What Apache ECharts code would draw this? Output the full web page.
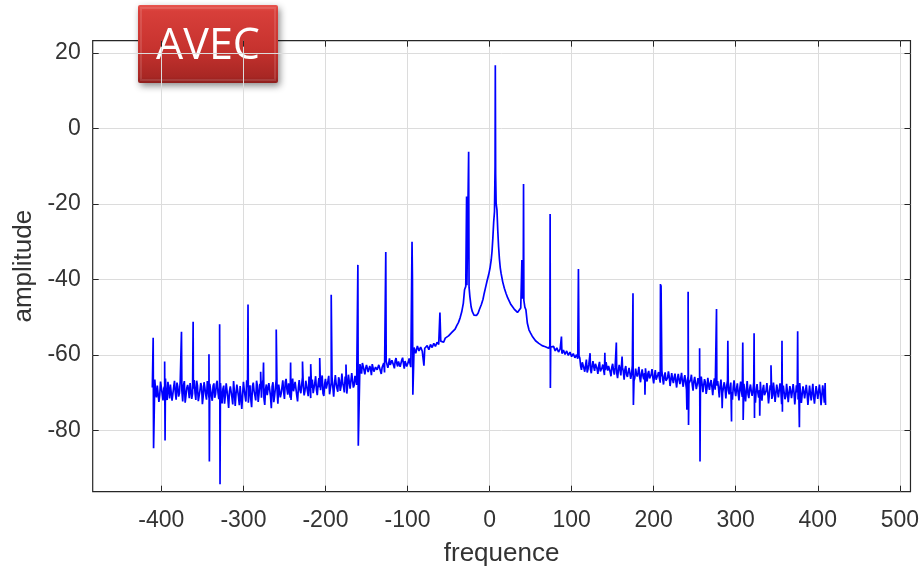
<!DOCTYPE html>
<html><head><meta charset="utf-8">
<script src="https://cdn.jsdelivr.net/npm/echarts@6/dist/echarts.min.js"></script>
<style>html,body{margin:0;padding:0;background:#fff}#c{width:922px;height:573px}</style>
</head><body><div id="c"></div>
<script>
// ---- axis text / ticks ----
const xTicks = [-400,-300,-200,-100,0,100,200,300,400,500];
const yTicks = [-80,-60,-40,-20,0,20];
const xLabel = 'frequence';
const yLabel = 'amplitude';
const badge = 'AVEC';

// ---- noise floor segments; A = even Hz, B = odd Hz ----
const floorStep = 2;
const floorLeftStart = -408;
const floorLeft = [
-66.5,-71.2,-67.8,-70.6,-66.9,-72.0,-68.2,-70.9,-67.1,-71.5,
-67.6,-70.3,-66.8,-71.8,-68.4,-70.1,-67.2,-72.3,-66.9,-70.7,
-67.9,-71.4,-67.0,-70.2,-66.6,-71.9,-68.1,-70.8,-67.4,-73.0,
-67.2,-70.5,-66.9,-71.3,-68.0,-72.1,-67.5,-70.4,-66.8,-71.7,
-67.4,-72.8,-68.1,-70.6,-67.0,-74.0,-68.3,-71.2,-66.9,-73.5,
-67.8,-71.0,-68.2,-74.3,-67.1,-70.9,-66.7,-72.6,-68.0,-73.8,
-67.3,-70.7,-66.8,-72.4,-67.6,-71.3,-66.5,-73.2,-67.8,-70.4,
-66.9,-74.1,-67.2,-70.8,-66.4,-72.9,-67.5,-70.2,-66.7,-71.6,
-66.3,-70.5,-67.0,-71.9,-66.2,-69.8,-67.4,-72.3,-66.6,-70.1,
-65.9,-70.7,-66.8,-69.5,-65.7,-71.4,-66.5,-69.9,-65.6,-70.6,
-66.1,-69.3,-65.4,-70.8,-66.3,-69.2,-65.5,-69.9,-65.8,-71.0,
-65.3,-68.8,-65.9,-69.5,-64.9,-68.4,-65.7,-70.2,-65.2,-68.9,
-64.8,-68.6,-65.5,-67.9
];
const floorLeftBStart = -407;
const floorLeftB = [
-69.8,-68.1,-72.4,-67.0,-70.3,-68.8,-66.2,-71.9,-69.2,-67.8,
-72.1,-68.5,-69.9,-67.3,-71.0,-66.9,-69.5,-68.0,-72.6,-68.7,
-69.1,-67.4,-71.6,-68.9,-70.0,-66.8,-72.2,-69.4,-68.3,-70.9,
-68.6,-71.8,-69.3,-67.6,-70.8,-68.2,-71.3,-67.7,-69.9,-68.4,
-70.5,-69.0,-72.9,-67.5,-71.4,-69.6,-68.0,-73.1,-69.7,-70.2,
-69.4,-73.3,-67.9,-70.6,-69.2,-72.3,-68.5,-69.8,-71.7,-68.3,
-69.6,-72.0,-68.1,-70.3,-69.0,-67.6,-71.5,-68.9,-70.6,-67.4,
-70.9,-68.3,-72.5,-68.6,-69.4,-67.8,-71.2,-68.5,-69.7,-67.2,
-69.0,-67.5,-71.3,-68.4,-69.6,-67.1,-70.7,-68.6,-69.3,-67.8,
-68.4,-69.5,-67.2,-70.9,-68.0,-68.7,-70.1,-67.4,-69.2,-67.9,
-68.6,-67.0,-70.2,-67.7,-68.9,-66.8,-70.4,-67.3,-68.5,-67.9,
-67.6,-69.7,-66.6,-68.3,-67.4,-69.9,-66.9,-68.0,-67.1,-69.4,
-66.7,-68.0,-66.5
];
const floorMidStart = -158;
const floorMid = [
-62.4,-64.9,-63.0,-65.1,-62.6,-64.5,-62.9,-65.3,-62.5,-64.7,
-62.8,-64.4,-62.3,-65.0,-63.1,-64.6,-61.6,-63.4,-60.9,-62.8,
-61.2,-63.5,-60.8,-63.0,-61.4,-62.9,-60.7,-63.6,-61.1,-62.5,
-60.9,-63.2
];
const floorMidBStart = -157;
const floorMidB = [
-63.8,-62.1,-64.0,-63.5,-62.2,-65.0,-63.7,-62.4,-64.4,-63.2,
-63.9,-62.6,-64.2,-63.3,-62.1,-64.8,-62.0,-62.4,-62.6,-61.4,
-62.7,-61.5,-62.3,-61.7,-63.1,-61.3,-62.2,-61.6,-63.0,-61.8,
-62.2
];
const floorRightStart = 110;
const floorRight = [
-60.8,-63.9,-61.5,-64.4,-61.2,-63.7,-62.0,-64.8,-61.6,-64.2,
-62.1,-65.0,-61.8,-64.6,-62.5,-65.3,-61.9,-64.1,-62.7,-65.6,
-62.3,-65.2,-63.0,-66.1,-62.6,-65.4,-63.2,-66.5,-62.9,-65.8,
-63.4,-66.3,-62.8,-66.9,-63.6,-65.7,-63.1,-67.2,-63.8,-66.4,
-63.5,-67.0,-64.2,-66.6,-63.7,-67.5,-64.0,-66.8,-64.5,-67.3,
-64.1,-67.8,-64.6,-66.9,-64.3,-68.2,-64.8,-67.4,-64.9,-68.6,
-65.0,-67.7,-64.7,-68.4,-65.3,-69.1,-65.6,-68.0,-65.2,-69.4,
-65.8,-69.0,-66.1,-68.5,-65.7,-69.8,-66.4,-70.3,-66.0,-69.2,
-66.6,-70.6,-66.2,-69.7,-66.9,-71.2,-66.5,-70.1,-67.2,-71.5,
-66.8,-70.4,-67.3,-71.8,-66.7,-70.9,-67.5,-72.0,-67.0,-71.1,
-67.6,-72.3,-66.9,-71.4,-67.8,-70.8,-67.2,-72.6,-67.7,-71.3,
-67.1,-72.1,-67.9,-71.0,-67.4,-72.8,-68.0,-71.6,-67.3,-72.4,
-67.8,-71.2,-67.5,-73.0,-68.1,-71.7,-67.6,-72.5,-68.2,-71.4,
-67.7,-73.1,-68.0,-71.8,-67.4,-72.7,-68.3,-71.5,-67.9,-73.2,
-68.1,-72.0,-67.6,-72.9,-68.2,-71.6,-67.8,-73.3,-68.0,-72.6
];
const floorRightBStart = 111;
const floorRightB = [
-62.9,-61.9,-63.5,-62.7,-64.6,-62.4,-63.8,-62.9,-63.1,-62.3,
-63.6,-62.9,-64.3,-63.4,-62.7,-64.0,-63.3,-62.9,-64.5,-63.2,
-64.0,-63.4,-64.8,-64.1,-63.7,-64.9,-64.3,-63.8,-65.2,-64.5,
-64.7,-65.2,-64.1,-66.0,-65.0,-64.6,-65.9,-64.9,-65.6,-64.8,
-65.6,-64.9,-66.2,-65.1,-66.0,-65.4,-66.5,-65.2,-66.1,-65.7,
-66.3,-65.5,-66.8,-66.0,-65.7,-66.6,-66.4,-65.9,-66.9,-66.2,
-66.6,-66.1,-67.0,-66.4,-67.3,-66.8,-67.5,-66.6,-67.8,-67.0,
-67.4,-67.9,-66.9,-68.4,-67.6,-68.0,-67.2,-68.8,-67.9,-67.5,
-68.4,-67.8,-69.2,-68.1,-68.7,-68.3,-69.4,-68.6,-68.9,-68.2,
-69.3,-68.7,-69.8,-68.5,-69.5,-68.9,-70.2,-68.8,-69.6,-69.0,
-69.9,-69.2,-70.4,-68.9,-69.7,-69.4,-70.5,-69.1,-70.0,-69.3,
-70.3,-69.0,-70.6,-69.5,-69.8,-70.4,-69.2,-70.7,-69.6,-70.1,
-69.5,-70.8,-69.4,-70.2,-69.9,-70.9,-69.7,-70.3,-69.6,-71.0,
-69.8,-70.5,-69.9,-71.1,-70.0,-70.4,-69.6,-71.2,-70.1,-70.6,
-70.2,-69.7,-71.0,-70.3,-69.8,-71.3,-70.0,-70.7,-69.9
];

// ---- central region [freq, amplitude] ----
const centre = [
[-92,-58.0],[-90,-59.5],[-88,-57.6],[-86,-58.9],[-84,-57.9],[-82,-59.0],[-80,-62.8],[-79,-58.2],
[-76,-57.5],[-74,-58.6],[-72,-57.2],[-70,-58.0],[-68,-56.9],[-66,-57.7],[-64,-56.6],[-62,-57.2],
[-60.5,-48.7],[-59.5,-56.3],[-58,-56.0],[-56,-56.6],[-54,-55.5],[-52,-55.9],[-50,-54.9],[-48,-55.2],
[-46,-54.0],[-44,-53.5],[-42,-53.1],[-40,-52.2],[-38,-51.4],[-36,-50.2],[-34,-48.6],[-32,-46.3],
[-30.5,-42.7],[-29,-41.8],[-28.2,-41.6],[-28,-18],[-27.6,-41.5],[-26.5,-41],[-25.5,-6.1],[-25,-42],
[-24,-44.5],[-22.5,-47.2],[-21,-48.5],[-19,-49.4],[-17.5,-49.8],[-16,-49.5],[-14,-48.9],[-12.5,-48.0],
[-10,-46.6],[-8,-45.2],[-6.5,-43.6],[-5,-42.2],[-3,-40.3],[-1,-38.6],[0.5,-37.0],[2,-34.8],[3,-32.5],
[4,-29.0],[5,-24.8],[6,-22],[6.7,-10],[7,16.8],[7.4,-12],[8,-19.8],[9,-21.5],[10,-27],[11,-31.3],
[12,-34.5],[13,-36.8],[14,-38.3],[16,-40.6],[18,-42.3],[20,-43.6],[22,-44.8],[24,-45.7],[26,-46.6],
[28,-47.2],[30,-47.8],[32,-48.3],[34,-48.7],[36,-48.9],[38,-47.5],[39.4,-34.8],[40,-45],[41,-44],
[41.4,-14.7],[41.8,-45.5],[43,-47.3],[44.3,-48],[46,-51.5],[48,-53.3],[50,-54.2],[52,-55.0],[54,-55.4],
[56,-56.2],[58,-56.0],[60,-56.9],[62,-56.6],[64,-57.5],[66,-57.1],[68,-57.8],[70,-57.4],[72,-58.2],
[73.5,-57.6],[73.8,-22.6],[74.1,-68.7],[74.5,-57.9],[76,-58.4],[78,-57.7],[80,-58.9],[82,-58.1],
[84,-59.2],[86,-58.4],[87.6,-55.1],[88.2,-59.6],[90,-58.7],[92,-59.8],[94,-58.9],[96,-60.1],[98,-59.2],
[100,-60.4],[102,-59.6],[104,-60.7],[106,-59.9],[107.5,-61.0],[108.3,-37.2],[109,-60.2]
];

// ---- isolated spikes [freq, amplitude] ----
const spikesLeft = [
[-411,-68.6],[-410,-55.4],[-409.5,-84.7],[-396,-61.7],[-395.5,-82.6],[-375.5,-53.8],[-361.3,-51.2],
[-342,-59.8],[-341.5,-88.2],[-329,-51.8],[-328.5,-94.2],[-294.4,-46.6],[-279,-64.4],[-275.5,-62],
[-260,-53.2],[-242.5,-62],[-228,-61.7],[-218,-62.4],[-207,-60.8],[-193,-44],[-175,-62.5],
[-160.5,-36.1],[-160,-84],[-126.5,-32.7],[-94.5,-30],[-94,-39.6],[-93.5,-70.5]
];
const spikesRight = [
[122.5,-59.5],[140.5,-59.4],[154.5,-56.7],[161.5,-60.4],[174.8,-43.6],[175.3,-73.2],[189.4,-70.5],
[208.3,-41.2],[209,-41.5],[240.5,-74.5],[242,-43.2],[242.5,-78.5],[256,-58.2],[256.5,-88.2],
[276.6,-47.8],[283.5,-74.1],[290.4,-56.2],[294.9,-77.6],[308.6,-56.7],[309.1,-77.2],[322.4,-54.2],
[322.9,-76.7],[329.3,-76.1],[343,-62.7],[356.4,-56.2],[356.9,-75],[375.5,-53.7],[377.6,-79.1],
[409,-67.4],[409.5,-73.2]
];

function floorPairs(start, vals){ return vals.map((v,i)=>[start+i*floorStep, v]); }
const points = [].concat(
  floorPairs(floorLeftStart, floorLeft), floorPairs(floorLeftBStart, floorLeftB),
  floorPairs(floorMidStart, floorMid), floorPairs(floorMidBStart, floorMidB),
  floorPairs(floorRightStart, floorRight), floorPairs(floorRightBStart, floorRightB),
  centre, spikesLeft, spikesRight
).sort((a,b)=>a[0]-b[0]);

const TXT = '#333333';
const FONT = 'Liberation Sans';
const chart = echarts.init(document.getElementById('c'));
const tickLine = {color:'#262626', width:1};
chart.setOption({
  animation:false,
  backgroundColor:'#ffffff',
  grid:{left:92.7, right:10, top:40.7, bottom:81.3, show:true, borderColor:'#262626', borderWidth:1.2, backgroundColor:'#fff'},
  xAxis:[{
    type:'value', min:-483.7, max:513, position:'bottom',
    axisLine:{show:false, onZero:false},
    axisTick:{show:true, inside:true, length:6, customValues:xTicks, lineStyle:tickLine},
    axisLabel:{customValues:xTicks, fontSize:23, color:TXT, margin:17, fontFamily:FONT},
    splitLine:{show:true, lineStyle:{color:'#dcdcdc', width:1}},
    name:xLabel, nameLocation:'middle', nameGap:49,
    nameTextStyle:{fontSize:26, color:TXT, fontFamily:FONT}
  },{
    type:'value', min:-483.7, max:513, position:'top',
    axisLine:{show:false, onZero:false},
    axisTick:{show:true, inside:true, length:6, customValues:xTicks, lineStyle:tickLine},
    axisLabel:{show:false}, splitLine:{show:false}
  }],
  yAxis:[{
    type:'value', min:-96.2, max:23.3, position:'left',
    axisLine:{show:false, onZero:false},
    axisTick:{show:true, inside:true, length:6, customValues:yTicks, lineStyle:tickLine},
    axisLabel:{customValues:yTicks, fontSize:23, color:TXT, margin:12, fontFamily:FONT, padding:[9,0,0,0]},
    splitLine:{show:true, lineStyle:{color:'#dcdcdc', width:1}},
    name:yLabel, nameLocation:'middle', nameGap:52, nameRotate:90,
    nameTextStyle:{fontSize:26, color:TXT, fontFamily:FONT}
  },{
    type:'value', min:-96.2, max:23.3, position:'right',
    axisLine:{show:false, onZero:false},
    axisTick:{show:true, inside:true, length:6, customValues:yTicks, lineStyle:tickLine},
    axisLabel:{show:false}, splitLine:{show:false}
  }],
  series:[{
    type:'line', data:points, xAxisIndex:0, yAxisIndex:0,
    showSymbol:false, symbol:'none', sampling:null,
    lineStyle:{color:'#0000ff', width:1.7}, clip:true, z:3
  }],
  graphic:[{
    type:'group', z:100,
    children:[
      {type:'rect', shape:{x:138, y:5, width:140, height:78, r:2},
       style:{fill:new echarts.graphic.LinearGradient(0,0,0,1,[
         {offset:0, color:'#e8554f'},{offset:0.08, color:'#d83f3a'},
         {offset:0.55, color:'#c7332f'},{offset:0.92, color:'#a82724'},{offset:1, color:'#8e1f1d'}]),
         shadowBlur:7, shadowOffsetX:2, shadowOffsetY:3, shadowColor:'rgba(0,0,0,0.45)'}},
      {type:'rect', shape:{x:141, y:8, width:134, height:72},
       style:{fill:'none', stroke:'rgba(255,255,255,0.12)', lineWidth:2}},
      {type:'text', x:208, y:47,
       style:{text:badge, fill:'#ffffff', fontSize:43, fontFamily:'Open Sans', align:'center', verticalAlign:'middle'}}
    ]
  }]
});
</script></body></html>
